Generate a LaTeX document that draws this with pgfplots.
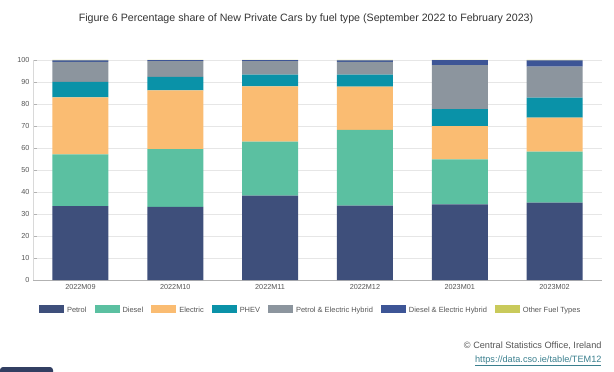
\documentclass[border=0pt]{standalone}
\usepackage{pgfplots}
\pgfplotsset{compat=1.18}
\usepackage{fontspec}
\setmainfont{Liberation Sans}
\definecolor{cPetrol}{HTML}{3E4F7B}
\definecolor{cDiesel}{HTML}{5BC0A1}
\definecolor{cElectric}{HTML}{FABC72}
\definecolor{cPHEV}{HTML}{0A92A8}
\definecolor{cPEH}{HTML}{8C959E}
\definecolor{cDEH}{HTML}{3D5596}
\definecolor{cOther}{HTML}{C9CA5B}
\definecolor{gridc}{HTML}{E6E6E6}
\definecolor{txt}{HTML}{555555}
\definecolor{linkc}{HTML}{3A7F8E}
\begin{document}
\begin{tikzpicture}[x=1bp,y=1bp]
\useasboundingbox (0,0) rectangle (614,371);
\node[font=\fontsize{10.7}{12}\selectfont, text=black!80] at (306,352) {Figure 6 Percentage share of New Private Cars by fuel type (September 2022 to February 2023)};
\begin{axis}[
  at={(33bp,91bp)}, anchor=south west,
  scale only axis, width=569bp, height=220bp,
  ybar stacked, bar width=56bp,
  xmin=-0.5, xmax=5.5, ymin=0, ymax=100,
  xtick={0,1,2,3,4,5},
  xticklabels={2022M09,2022M10,2022M11,2022M12,2023M01,2023M02},
  ytick={0,10,...,100},
  ymajorgrids, grid style={gridc, line width=0.5pt},
  axis x line*=bottom, axis y line*=left,
  x axis line style={draw=black!30},
  y axis line style={draw=black!15},
  xtick style={draw=none},
  ytick style={draw=black!30},
  major tick length=4bp,
  tick label style={font=\fontsize{7.3}{9}\selectfont, text=txt},
  /pgf/number format/assume math mode=true,
  xticklabel style={yshift=-1bp},
  legend columns=7,
  legend style={at={(0.005,-0.132)}, anchor=west, draw=none, fill=none,
    font=\fontsize{7.5}{9}\selectfont, text=txt,
    nodes={text height=1.5ex, text depth=0.3ex},
    /tikz/every odd column/.append style={column sep=1bp},
    /tikz/every even column/.append style={column sep=6bp}},
  legend image code/.code={\fill[#1] (0bp,-3.8bp) rectangle (25bp,3.8bp);},
  every axis plot/.append style={draw=none},
]
\addplot[fill=cPetrol] coordinates {(0,33.6) (1,33.2) (2,38.3) (3,33.8) (4,34.4) (5,35.2)};
\addplot[fill=cDiesel] coordinates {(0,23.5) (1,26.3) (2,24.6) (3,34.4) (4,20.4) (5,23.1)};
\addplot[fill=cElectric] coordinates {(0,25.9) (1,26.7) (2,25.1) (3,19.7) (4,15.2) (5,15.5)};
\addplot[fill=cPHEV] coordinates {(0,7.0) (1,6.1) (2,5.3) (3,5.4) (4,7.7) (5,9.1)};
\addplot[fill=cPEH] coordinates {(0,9.2) (1,7.2) (2,6.2) (3,5.9) (4,20.0) (5,14.1)};
\addplot[fill=cDEH] coordinates {(0,0.6) (1,0.4) (2,0.4) (3,0.6) (4,2.2) (5,2.8)};
\addplot[fill=cOther] coordinates {(0,0.2) (1,0.1) (2,0.1) (3,0.2) (4,0.1) (5,0.2)};
\legend{Petrol,Diesel,Electric,PHEV,Petrol \& Electric Hybrid,Diesel \& Electric Hybrid,Other Fuel Types}
\end{axis}
\node[anchor=east, font=\fontsize{9.2}{11}\selectfont, text=txt] at (605,25) {© Central Statistics Office, Ireland};
\node[anchor=east, font=\fontsize{9.2}{11}\selectfont, text=linkc] at (605,10) {\underline{https://data.cso.ie/table/TEM12}};
\fill[cPetrol!80!black, rounded corners=3bp] (0,-4) rectangle (53,4);
\end{tikzpicture}
\end{document}
